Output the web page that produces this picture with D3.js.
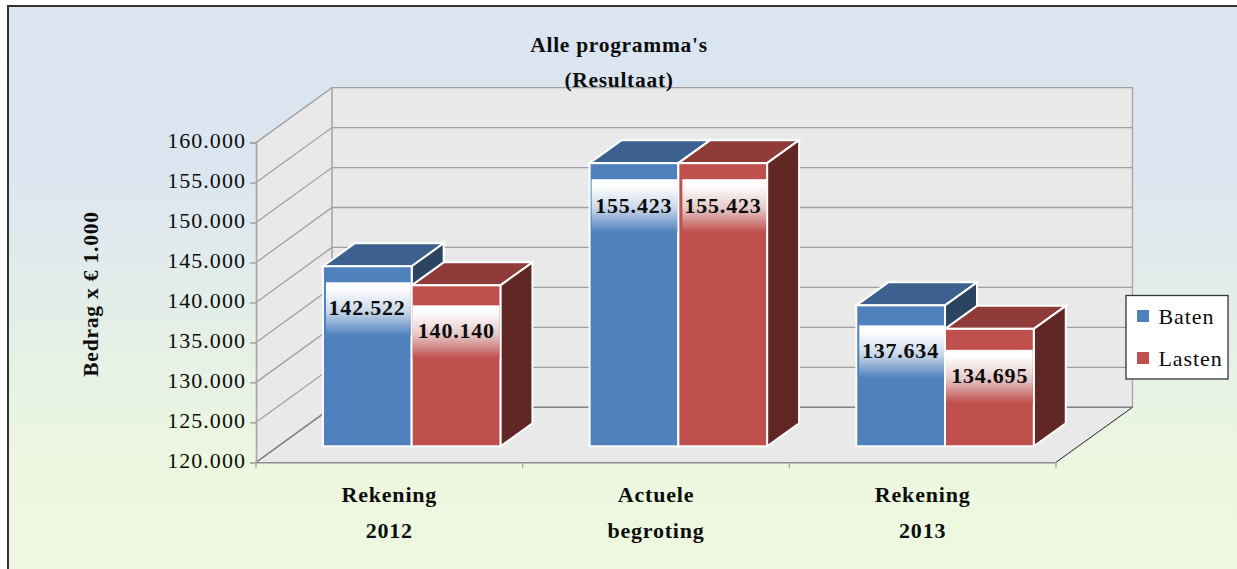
<!DOCTYPE html>
<html><head><meta charset="utf-8">
<script src="https://d3js.org/d3.v7.min.js"></script>
<style>html,body{margin:0;padding:0;background:#fff;overflow:hidden}svg{display:block}text{font-family:"Liberation Serif",serif;fill:#0d0d0d}</style>
</head><body><svg id="c" width="1237" height="569"></svg>
<script>
const categories=[["Rekening","2012"],["Actuele","begroting"],["Rekening","2013"]];
const baten=[142522,155423,137634];
const lasten=[140140,155423,134695];
const seriesNames=["Baten","Lasten"];
const titleLines=["Alle programma's","(Resultaat)"];
const yTicks=[120000,125000,130000,135000,140000,145000,150000,155000,160000];
const yLabel="Bedrag x € 1.000";

const svg=d3.select("#c");
const fmt=d3.formatLocale({decimal:",",thousands:".",grouping:[3],currency:["€",""]}).format(",d");
const L=256,R=1056,T=142.6,B=462.3;
const backDx=76,backDy=-55;
const barFrontDx=22,barFrontDy=-16;
const barDx=32,barDy=-23;
const y=d3.scaleLinear().domain([120000,160000]).range([B,T]);
const x=d3.scaleBand().domain(d3.range(categories.length)).range([L,R]);
const sub=d3.scaleBand().domain(d3.range(2)).range([0,177.5]);
const pts=a=>a.map(p=>p.join(",")).join(" ");
const barX=(ci,si)=>x(ci)+barFrontDx+(x.bandwidth()-178)/2+sub(si)+.6;
// label-box placement inside each bar
const drop=[[16,20],[16,16],[20,21]];
const inset=[[3,1],[2,4],[3,1]];
const textDrop=[[49,53],[50,50],[53,54]];

const defs=svg.append("defs");
const bg=defs.append("linearGradient").attr("id","bg").attr("x1",0).attr("y1",0).attr("x2",0).attr("y2",1);
bg.append("stop").attr("offset",0).attr("stop-color","#dbe5f1");
bg.append("stop").attr("offset",.3).attr("stop-color","#dce6f0");
bg.append("stop").attr("offset",.8).attr("stop-color","#edf7df");
bg.append("stop").attr("offset",1).attr("stop-color","#eef8e0");
const colors=[{f:"#4f81bd",t:"#3c618f",s:"#2a4462"},{f:"#c0504d",t:"#8e3b39",s:"#612725"}];
const mids=["#c9d7e9","#e6c9c8"];
colors.forEach((c,i)=>{
  const g=defs.append("linearGradient").attr("id","lb"+i).attr("x1",0).attr("y1",0).attr("x2",0).attr("y2",1);
  g.append("stop").attr("offset",0).attr("stop-color","#fff");
  g.append("stop").attr("offset",.12).attr("stop-color","#fff");
  g.append("stop").attr("offset",.55).attr("stop-color",mids[i]);
  g.append("stop").attr("offset",1).attr("stop-color",c.f);
});

svg.append("rect").attr("x",8).attr("y",6).attr("width",1240).attr("height",580)
  .attr("fill","url(#bg)").attr("stroke","#333").attr("stroke-width",2);

const W="#e9e9e9",GR="#a6a6a6";
svg.append("polygon").attr("points",pts([[L,T],[L+backDx,T+backDy],[L+backDx,B+backDy],[L,B]])).attr("fill",W);
svg.append("polygon").attr("points",pts([[L+backDx,T+backDy],[R+backDx+.5,T+backDy],[R+backDx+.5,B+backDy],[L+backDx,B+backDy]])).attr("fill",W);
svg.append("polygon").attr("points",pts([[L,B],[L+backDx,B+backDy],[R+backDx+.5,B+backDy],[R,B]])).attr("fill",W);

const gl=svg.append("g").attr("fill","none");
yTicks.forEach(t=>{
  const yy=y(t), base=t===yTicks[0];
  gl.append("path").attr("d",`M${L},${yy}L${L+backDx},${yy+backDy}L${R+backDx+.5},${yy+backDy}`)
    .attr("stroke",base?"#808080":"#a0a0a0").attr("stroke-width",base?1.6:1.3);
});
gl.append("line").attr("x1",L+backDx).attr("x2",L+backDx).attr("y1",T+backDy).attr("y2",B+backDy).attr("stroke",GR).attr("stroke-width",1.6);
gl.append("line").attr("x1",R+backDx+.5).attr("x2",R+backDx+.5).attr("y1",T+backDy).attr("y2",B+backDy).attr("stroke",GR).attr("stroke-width",1.3);
gl.append("line").attr("x1",R).attr("x2",R+backDx+.5).attr("y1",B).attr("y2",B+backDy).attr("stroke","#222").attr("stroke-width",1);

const yAxis=svg.append("g").attr("transform",`translate(${L},0)`)
  .call(d3.axisLeft(y).tickValues(yTicks).tickFormat(fmt).tickSize(6).tickPadding(4));
const xAxis=svg.append("g").attr("transform",`translate(0,${B})`)
  .call(d3.axisBottom(x).tickValues([]).tickSizeOuter(0));
[...x.domain().map(d=>x(d)),R].forEach(v=>{
  xAxis.append("line").attr("x1",v).attr("x2",v).attr("y1",0).attr("y2",6).attr("stroke",GR).attr("stroke-width",1.3);
});
yAxis.selectAll("path,line").attr("stroke",GR).attr("stroke-width",1.6);
xAxis.select("path").attr("stroke","#8c8c8c").attr("stroke-width",1.6);
yAxis.selectAll("text").attr("font-size",22).attr("letter-spacing","1.05px").attr("fill","#262626").attr("dy","0.24em");

const barsG=svg.append("g");
const rows=[baten,lasten];
categories.forEach((_,ci)=>{
  rows.forEach((vals,si)=>{
    const c=colors[si],v=vals[ci];
    const bw=sub.bandwidth();
    const x0=barX(ci,si),x1=x0+bw;
    const yT=y(v)+barFrontDy, yB=B+barFrontDy;
    const g=barsG.append("g").attr("stroke","#fff").attr("stroke-width",2);
    g.append("polygon").attr("points",pts([[x0,yT],[x0+barDx,yT+barDy],[x1+barDx,yT+barDy],[x1,yT]])).attr("fill",c.t);
    g.append("polygon").attr("points",pts([[x1,yT],[x1+barDx,yT+barDy],[x1+barDx,yB+barDy],[x1,yB]])).attr("fill",c.s);
    g.append("rect").attr("x",x0).attr("y",yT).attr("width",bw).attr("height",yB-yT).attr("fill",c.f);
  });
});
categories.forEach((_,ci)=>{
  rows.forEach((vals,si)=>{
    const v=vals[ci],bw=sub.bandwidth();
    const x0=barX(ci,si);
    const yT=y(v)+barFrontDy;
    const ins=inset[ci][si];
    barsG.append("rect").attr("x",x0+ins).attr("y",yT+drop[ci][si]).attr("width",bw-ins-1).attr("height",53).attr("fill",`url(#lb${si})`);
    barsG.append("text").attr("x",x0+bw/2+ (si===0?-.2:0.3)).attr("y",yT+textDrop[ci][si]).attr("text-anchor","middle")
      .attr("font-size",22).attr("font-weight","bold").attr("letter-spacing","0.8px").attr("fill","#0a0a0a").text(fmt(v));
  });
});

svg.append("g").selectAll("text").data(titleLines).join("text")
  .attr("x",619).attr("y",(d,i)=>52+i*35).attr("text-anchor","middle")
  .attr("font-size",21.5).attr("font-weight","bold").attr("letter-spacing","0.7px").text(d=>d);

svg.append("text").attr("transform","translate(98,294) rotate(-90)").attr("text-anchor","middle")
  .attr("font-size",21.5).attr("font-weight","bold").attr("letter-spacing","0.8px").text(yLabel);

categories.forEach((lines,ci)=>{
  lines.forEach((t,li)=>{
    svg.append("text").attr("x",x(ci)+x.bandwidth()/2).attr("y",502+li*36).attr("text-anchor","middle")
      .attr("font-size",22).attr("font-weight","bold").attr("letter-spacing","0.8px").text(t);
  });
});

const lg=svg.append("g");
lg.append("rect").attr("x",1126).attr("y",295.5).attr("width",102).attr("height",83.5).attr("fill","#fff").attr("stroke","#333").attr("stroke-width",1.3);
seriesNames.forEach((n,i)=>{
  lg.append("rect").attr("x",1137).attr("y",310+i*42).attr("width",12).attr("height",12).attr("fill",colors[i].f);
  lg.append("text").attr("x",1158.5).attr("y",324+i*42).attr("font-size",22).attr("letter-spacing","0.9px").text(n);
});
</script></body></html>
